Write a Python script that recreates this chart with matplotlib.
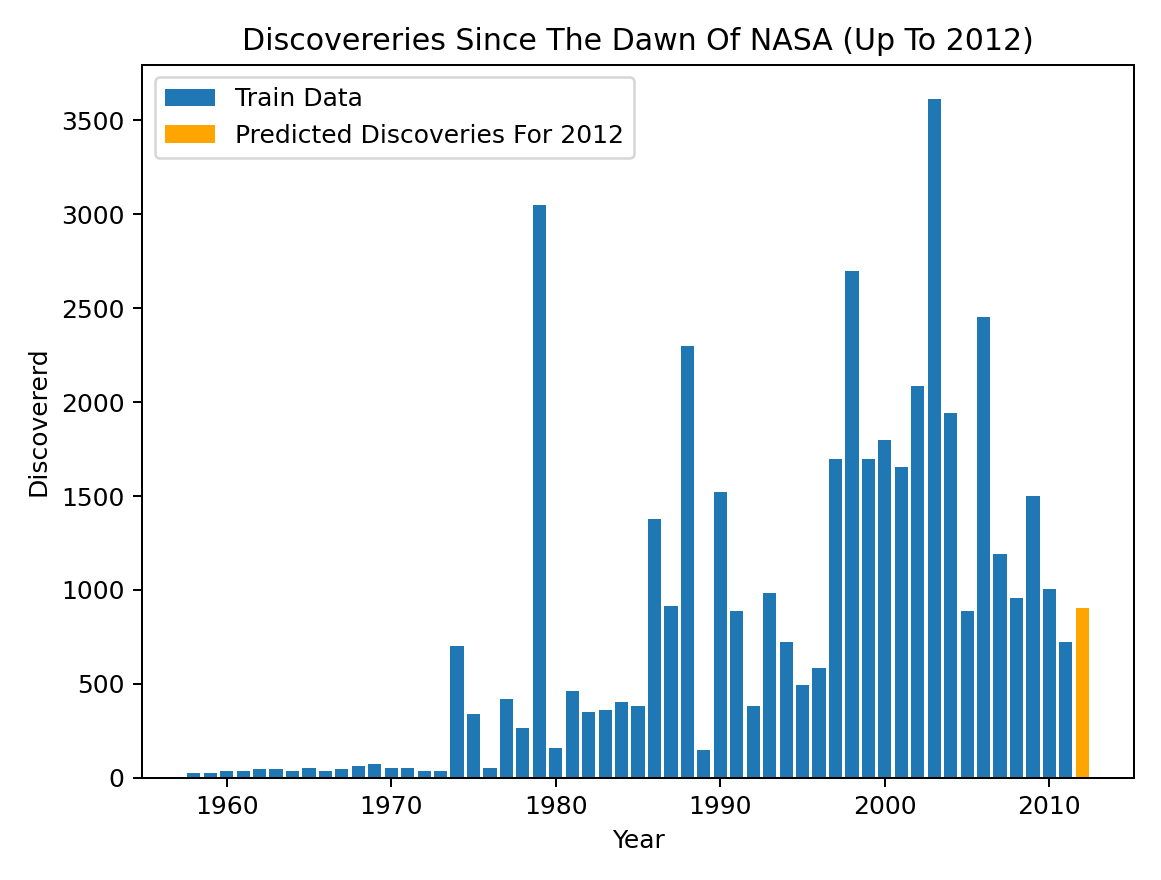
import matplotlib
matplotlib.use("Agg")
import matplotlib.pyplot as plt

years = list(range(1958, 2012))
counts = [22, 22, 33, 33, 43, 43, 33, 53, 33, 43, 63, 74, 53, 53, 33, 33,
          700, 340, 53, 420, 265, 3050, 155, 462, 350, 360, 400, 380,
          1375, 915, 2300, 145, 1520, 885, 380, 985, 720, 495, 585,
          1695, 2700, 1695, 1795, 1655, 2085, 3615, 1940, 885, 2455,
          1190, 955, 1500, 1005, 720]
pred_year = [2012]
pred_count = [905]

fig, ax = plt.subplots(figsize=(6.45, 4.89), dpi=180)
ax.bar(years, counts, label="Train Data", color="#1f77b4")
ax.bar(pred_year, pred_count, label="Predicted Discoveries For 2012", color="orange")
ax.set_title("Discovereries Since The Dawn Of NASA (Up To 2012)")
ax.set_xlabel("Year")
ax.set_ylabel("Discovererd")
ax.legend(loc="upper left")
fig.tight_layout()
fig.savefig("out.png")
